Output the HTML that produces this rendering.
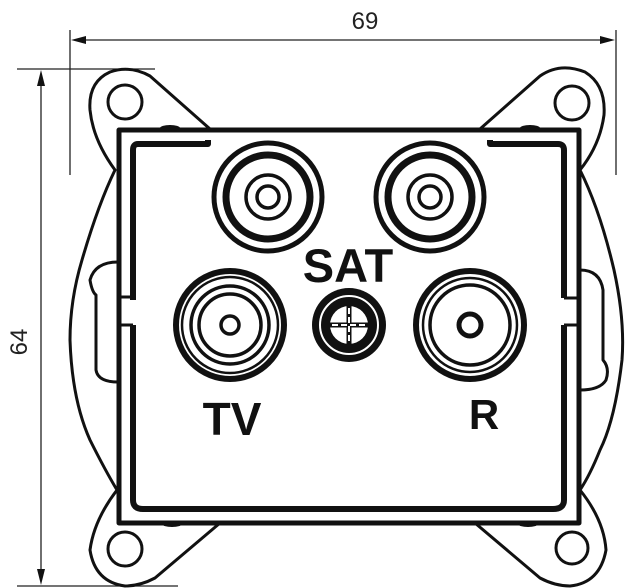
<!DOCTYPE html>
<html><head><meta charset="utf-8"><style>
html,body{margin:0;padding:0;background:#fff;}
svg{display:block}
text{font-family:"Liberation Sans",sans-serif;}
</style></head><body>
<svg width="630" height="588" viewBox="0 0 630 588" xmlns="http://www.w3.org/2000/svg">
<rect width="630" height="588" fill="#fff"/>
<!-- dimension lines -->
<g stroke="#222" stroke-width="1.3" fill="none">
<line x1="70" y1="30" x2="70" y2="175"/>
<line x1="616" y1="30" x2="616" y2="175"/>
<line x1="78" y1="40" x2="608" y2="40"/>
<line x1="17" y1="69" x2="155" y2="69"/>
<line x1="17" y1="586" x2="178" y2="586"/>
<line x1="41" y1="78" x2="41" y2="578"/>
</g>
<g fill="#111">
<polygon points="71,40 86,36 86,44"/>
<polygon points="615,40 600,36 600,44"/>
<polygon points="41,70 37,86 45,86"/>
<polygon points="41,585 37,569 45,569"/>
</g>
<text x="365" y="29" font-size="24" text-anchor="middle" fill="#222" font-weight="normal" transform="scale(1,1)">69</text>
<text x="0" y="0" font-size="24" text-anchor="middle" fill="#222" transform="translate(27,342) rotate(-90)">64</text>

<!-- outer body outline -->
<g stroke="#111" stroke-width="3" fill="none" stroke-linejoin="round">
<path d="M210,129 L150,76 Q130,65 110,72 Q88,82 90,110 Q93,140 115,170 Q98,205 82,260 Q70,300 70,340 Q72,400 90,440 Q105,470 117,490 Q94,520 90,550 Q95,582 125,586 Q140,586 155,578 L220,523"/>
<path d="M480,129 L540,76 Q560,62 585,72 Q606,85 604,115 Q600,145 580,170 Q600,210 614,270 Q625,320 622,360 Q615,420 600,450 Q590,475 580,490 Q604,520 606,550 Q600,583 570,586 Q555,586 540,578 L475,523"/>
<!-- tabs -->
<path d="M118,262 Q95,262 90,280 Q92,292 96,295 L96,370 Q98,382 118,382"/>
<path d="M580,270 Q600,270 603,290 L603,360 Q610,368 606,380 Q600,390 580,390"/>
<!-- holes -->
<circle cx="125" cy="102" r="17"/>
<circle cx="572" cy="103" r="17"/>
<circle cx="125" cy="549" r="17"/>
<circle cx="572" cy="548" r="16"/>
</g>
<!-- frame -->
<g stroke="#111" fill="none" stroke-linejoin="round">
<rect x="119" y="130" width="460" height="393" stroke-width="5"/>
<path d="M208,140 L208,144 L138,144 Q133,144 133,150 L133,300 M133,325 L133,500 Q133,509 143,509 L553,509 Q564,509 564,500 L564,325 M564,298 L564,150 Q564,144 558,144 L490,144 L490,140" stroke-width="6"/>
<path d="M119,297 L133,297 M119,325 L133,325 M564,298 L579,298 M564,325 L579,325" stroke-width="3"/>
</g>
<!-- small bumps -->
<g fill="#111">
<ellipse cx="170" cy="128" rx="10" ry="3"/>
<ellipse cx="530" cy="128" rx="10" ry="3"/>
<ellipse cx="172" cy="524" rx="10" ry="3"/>
<ellipse cx="528" cy="524" rx="10" ry="3"/>
</g>
<!-- SAT connectors -->
<g stroke="#111" fill="none">
<circle cx="268" cy="197" r="54" stroke-width="5"/>
<circle cx="268" cy="197" r="42" stroke-width="7"/>
<circle cx="268" cy="197" r="22" stroke-width="3.5"/>
<circle cx="268" cy="197" r="11" stroke-width="3.5"/>
<circle cx="430" cy="197" r="54" stroke-width="5"/>
<circle cx="430" cy="197" r="42" stroke-width="7"/>
<circle cx="430" cy="197" r="22" stroke-width="3.5"/>
<circle cx="430" cy="197" r="11" stroke-width="3.5"/>
<!-- TV -->
<circle cx="230" cy="325" r="54" stroke-width="6"/>
<circle cx="230" cy="325" r="48" stroke-width="2.5"/>
<circle cx="230" cy="325" r="39" stroke-width="3.5"/>
<circle cx="230" cy="325" r="31" stroke-width="3.5"/>
<circle cx="230" cy="325" r="9" stroke-width="3.5"/>
<!-- R -->
<circle cx="470" cy="325" r="54" stroke-width="6"/>
<circle cx="470" cy="325" r="47" stroke-width="2.5"/>
<circle cx="470" cy="325" r="40" stroke-width="3.5"/>
<circle cx="470" cy="325" r="11" stroke-width="5"/>
</g>
<!-- middle connector -->
<circle cx="349" cy="325" r="37" fill="#111"/>
<circle cx="349" cy="325" r="29" fill="none" stroke="#fff" stroke-width="2"/>
<circle cx="349" cy="325" r="19" fill="#fff"/>
<g stroke="#111" stroke-width="5">
<line x1="330" y1="325" x2="368" y2="325"/>
<line x1="349" y1="306" x2="349" y2="344"/>
</g>
<g stroke="#fff" stroke-width="2">
<line x1="332" y1="325" x2="366" y2="325" stroke-dasharray="6,3"/>
<line x1="349" y1="308" x2="349" y2="342" stroke-dasharray="6,3"/>
</g>
<!-- labels -->
<text x="348" y="282" font-size="47" font-weight="bold" text-anchor="middle" fill="#111">SAT</text>
<text x="232" y="435" font-size="46" font-weight="bold" text-anchor="middle" fill="#111">TV</text>
<text x="484" y="429" font-size="42" font-weight="bold" text-anchor="middle" fill="#111">R</text>
</svg>
</body></html>
